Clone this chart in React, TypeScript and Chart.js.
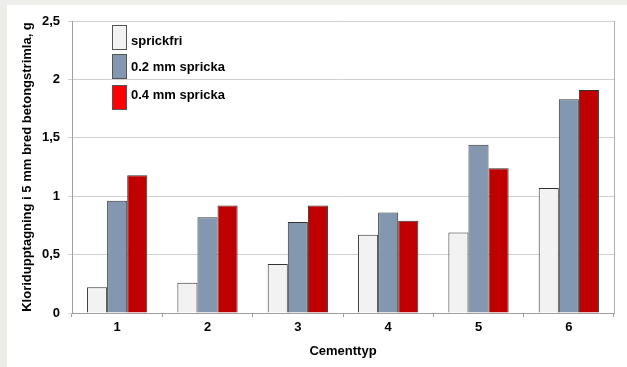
import React, { useEffect, useRef } from "react";
import { Chart, registerables } from "chart.js";

Chart.register(...registerables);

const categories = ["1", "2", "3", "4", "5", "6"];
const seriesNames = ["sprickfri", "0.2 mm spricka", "0.4 mm spricka"];
const sprickfri = [0.22, 0.26, 0.42, 0.67, 0.69, 1.07];
const spricka02 = [0.96, 0.82, 0.78, 0.86, 1.44, 1.83];
const spricka04 = [1.18, 0.92, 0.92, 0.79, 1.24, 1.91];
const barColors = ["#f2f2f2", "#8497b0", "#c00000"];
const legendColors = ["#f2f2f2", "#8497b0", "#ff0000"];
const yTitle = "Kloridupptagning i 5 mm bred betongstrimla, g";
const xTitle = "Cementtyp";

const FONT = "'Liberation Sans', Arial, sans-serif";

const overlayPlugin = {
  id: "overlay",
  afterDraw(chart: any) {
    const ctx = chart.ctx;
    const ca = chart.chartArea;
    ctx.save();
    // right border
    ctx.strokeStyle = "#b0b0b0";
    ctx.lineWidth = 1;
    ctx.beginPath();
    ctx.moveTo(Math.round(ca.right) + 0.5, ca.top);
    ctx.lineTo(Math.round(ca.right) + 0.5, ca.bottom);
    ctx.stroke();
    // legend
    const boxTops = [4, 33, 64];
    const textYs = [20.7, 46.7, 74];
    ctx.font = `bold 13px ${FONT}`;
    ctx.textBaseline = "middle";
    ctx.textAlign = "left";
    chart.data.datasets.forEach((ds: any, i: number) => {
      const bx = Math.round(ca.left + 40) + 0.5;
      const by = Math.round(ca.top + boxTops[i]) + 0.5;
      ctx.fillStyle = legendColors[i];
      ctx.fillRect(bx, by, 14, 24);
      ctx.strokeStyle = "#555555";
      ctx.strokeRect(bx, by, 14, 24);
      ctx.fillStyle = "#000000";
      ctx.fillText(ds.label, ca.left + 59, ca.top + textYs[i]);
    });
    ctx.restore();
  },
};

export default function App() {
  const ref = useRef<HTMLCanvasElement>(null);
  useEffect(() => {
    if (!ref.current) return;
    const values = [sprickfri, spricka02, spricka04];
    const chart = new Chart(ref.current, {
      type: "bar",
      data: {
        labels: categories,
        datasets: seriesNames.map((name, i) => ({
          label: name,
          data: values[i],
          backgroundColor: barColors[i],
          borderColor: "#333333",
          borderWidth: 1,
          borderSkipped: "bottom",
          categoryPercentage: 0.667,
          barPercentage: 1,
        })),
      },
      options: {
        responsive: false,
        animation: false,
        devicePixelRatio: 1,
        layout: { padding: { left: 0, top: 16, right: 13, bottom: 0 } },
        plugins: {
          legend: { display: false },
          tooltip: { enabled: false },
        },
        scales: {
          x: {
            afterFit: (s: any) => {
              s.height = 54;
            },
            grid: {
              display: true,
              offset: true,
              drawOnChartArea: false,
              drawTicks: true,
              tickLength: 4,
              color: "#a0a0a0",
            },
            border: { display: true, color: "#a0a0a0" },
            ticks: {
              color: "#000",
              padding: 3,
              font: { family: FONT, size: 13, weight: "bold" },
            },
            title: {
              display: true,
              text: xTitle,
              color: "#000",
              padding: { top: 0, bottom: 7.5 },
              font: { family: FONT, size: 13, weight: "bold" },
            },
          },
          y: {
            min: 0,
            max: 2.5,
            afterFit: (s: any) => {
              s.width = 65;
            },
            grid: {
              color: "#d0d0d0",
              drawTicks: true,
              tickLength: 4,
            },
            border: { display: true, color: "#a0a0a0" },
            ticks: {
              stepSize: 0.5,
              color: "#000",
              padding: 8,
              font: { family: FONT, size: 13, weight: "bold" },
              callback: (v: any) => String(v).replace(".", ","),
            },
            title: {
              display: true,
              text: yTitle,
              color: "#000",
              padding: { top: 13, bottom: 0 },
              font: { family: FONT, size: 13, weight: "bold" },
            },
          },
        },
      },
      plugins: [overlayPlugin],
    } as any);
    return () => chart.destroy();
  }, []);

  return (
    <div
      style={{
        position: "absolute",
        left: 0,
        top: 0,
        width: 627,
        height: 367,
        background: "#ededea",
        overflow: "hidden",
      }}
    >
      <div
        style={{
          position: "absolute",
          left: 7,
          top: 5,
          width: 620,
          height: 362,
          background: "#ffffff",
        }}
      >
        <canvas ref={ref} width={620} height={362} style={{ display: "block" }} />
      </div>
    </div>
  );
}
